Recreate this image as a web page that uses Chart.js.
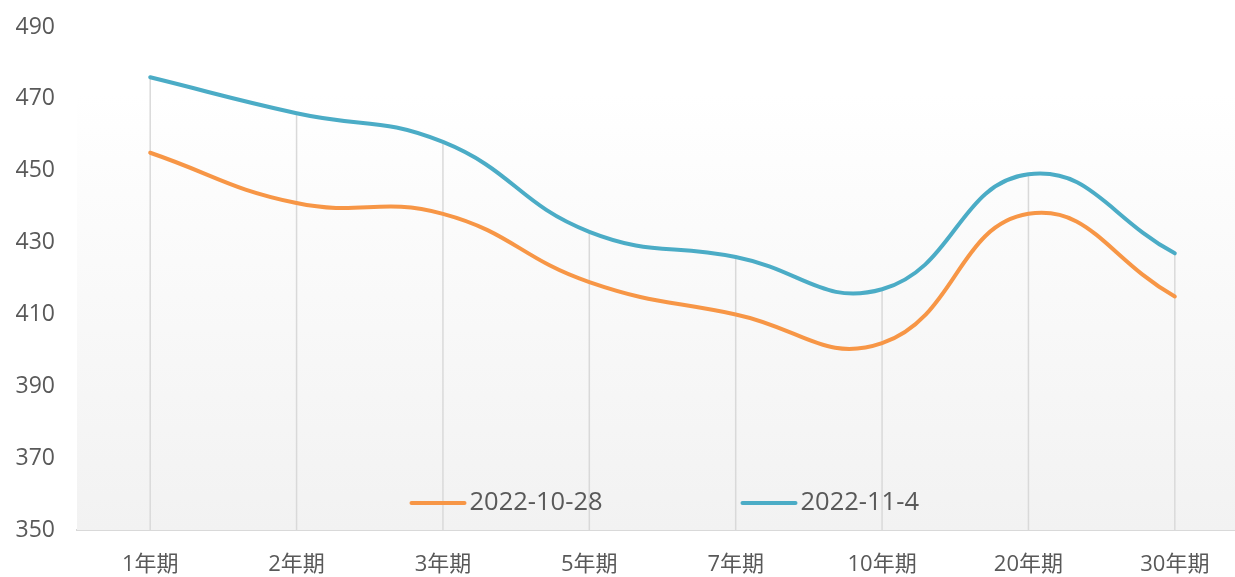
<!DOCTYPE html>
<html>
<head>
<meta charset="utf-8">
<script src="https://cdn.jsdelivr.net/npm/chart.js@4"></script>
<style>
  html, body { margin: 0; padding: 0; background: #ffffff; overflow: hidden; }
  #wrap { width: 1250px; height: 577px; }
</style>
</head>
<body>
<div id="wrap"><canvas id="c" width="1250" height="577"></canvas></div>
<script>
const categories = ['1年期', '2年期', '3年期', '5年期', '7年期', '10年期', '20年期', '30年期'];
const seriesOct28 = [455, 441, 438, 419, 410, 402, 438, 415];
const seriesNov4 = [476, 466, 458, 433, 426, 417, 449, 427];
const seriesLabels = ['2022-10-28', '2022-11-4'];
const yMin = 350, yMax = 490, yStep = 20;

const FONT = "'Open Sans', 'Noto Sans CJK SC', sans-serif";
const TEXT = '#595959';

const bgPlugin = {
  id: 'bgPlugin',
  beforeDatasetsDraw(chart) {
    const { ctx, chartArea, scales } = chart;
    const top = chartArea.top + 66;
    const g = ctx.createLinearGradient(0, top, 0, chartArea.bottom);
    g.addColorStop(0, '#ffffff');
    g.addColorStop(1, '#f2f2f2');
    ctx.save();
    ctx.fillStyle = g;
    ctx.fillRect(chartArea.left, top, chartArea.right - chartArea.left, chartArea.bottom - top);
    ctx.strokeStyle = '#d9d9d9';
    ctx.lineWidth = 1.5;
    categories.forEach((c, i) => {
      const v = Math.max(...chart.data.datasets.map(d => d.data[i]));
      const x = scales.x.getPixelForValue(i);
      const y = scales.y.getPixelForValue(v);
      ctx.beginPath();
      ctx.moveTo(x, y);
      ctx.lineTo(x, chartArea.bottom);
      ctx.stroke();
    });
    ctx.restore();
  },
  afterDatasetsDraw(chart) {
    const { ctx, chartArea } = chart;
    const cx = (chartArea.left + chartArea.right) / 2;
    const y = chartArea.bottom - 27;
    const starts = [cx - 251, cx + 80];
    ctx.save();
    ctx.font = '25.5px ' + FONT;
    ctx.textBaseline = 'middle';
    ctx.fillStyle = TEXT;
    chart.data.datasets.forEach((d, i) => {
      const x0 = starts[i];
      ctx.strokeStyle = d.borderColor;
      ctx.lineWidth = 4;
      ctx.lineCap = 'round';
      ctx.beginPath();
      ctx.moveTo(x0, y);
      ctx.lineTo(x0 + 53, y);
      ctx.stroke();
      ctx.fillText(d.label, x0 + 58, y);
    });
    ctx.restore();
  }
};

new Chart(document.getElementById('c'), {
  type: 'line',
  data: {
    labels: categories,
    datasets: [
      { label: seriesLabels[0], data: seriesOct28, borderColor: '#F79646', backgroundColor: '#F79646',
        borderWidth: 4, pointRadius: 0, tension: 0.45, fill: false, borderCapStyle: 'round' },
      { label: seriesLabels[1], data: seriesNov4, borderColor: '#4BACC6', backgroundColor: '#4BACC6',
        borderWidth: 4, pointRadius: 0, tension: 0.45, fill: false, borderCapStyle: 'round' }
    ]
  },
  options: {
    responsive: false,
    animation: false,
    devicePixelRatio: 1,
    layout: { padding: { top: 27, left: 10, right: 2, bottom: 0 }, autoPadding: false },
    plugins: { legend: { display: false }, tooltip: { enabled: false } },
    scales: {
      x: {
        offset: true,
        grid: { display: false, drawTicks: false },
        border: { display: true, color: '#d9d9d9', width: 2 },
        ticks: { color: TEXT, font: { family: FONT, size: 22, lineHeight: 1 }, padding: 24, maxRotation: 0, minRotation: 0 },
        afterFit(scale) { scale.height = 47; }
      },
      y: {
        min: yMin, max: yMax,
        grid: { display: false, drawTicks: false },
        border: { display: false },
        ticks: { stepSize: yStep, color: TEXT, font: { family: FONT, size: 23 }, padding: 22 },
        afterFit(scale) { scale.width = 67; scale.paddingTop = 0; scale.paddingBottom = 0; }
      }
    }
  },
  plugins: [bgPlugin]
});
</script>
</body>
</html>
